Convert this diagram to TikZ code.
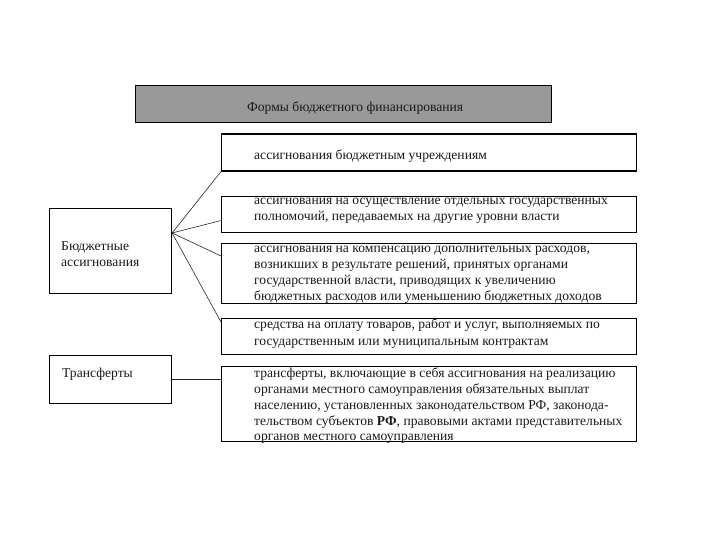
\documentclass[tikz,border=0pt]{standalone}
\usepackage{fontspec}
\setmainfont{Liberation Serif}
\usetikzlibrary{calc}
\begin{document}
\begin{tikzpicture}[x=1pt,y=-1pt,
  box/.style={draw=black, line width=1.1pt, inner sep=0pt, anchor=north west},
  conn/.style={draw=black!85, line width=0.6pt},
  txt/.style={anchor=base west, inner sep=0pt, font=\fontsize{13.6}{16}\selectfont, text=black!90}]
\useasboundingbox (0,0) rectangle (720,540);
% boxes
\node[box, fill=black!40, minimum width=416pt, minimum height=37pt] (title) at (135,85) {};
\node[box, minimum width=415pt, minimum height=37pt] (b1) at (221,133.5) {};
\node[box, minimum width=415pt, minimum height=36pt] (b2) at (221,196) {};
\node[box, minimum width=415pt, minimum height=60pt] (b3) at (221,243) {};
\node[box, minimum width=415pt, minimum height=36pt] (b4) at (221,318) {};
\node[box, minimum width=415pt, minimum height=75pt] (b5) at (221,366) {};
\node[box, minimum width=122pt, minimum height=85pt] (bud) at (49,208) {};
\node[box, minimum width=122pt, minimum height=48pt] (tr) at (49,355) {};
% texts
\node[txt] (tt) at (247,112) {Формы бюджетного финансирования};
\node[txt] (t1) at (254,160) {ассигнования бюджетным учреждениям};
\node[txt] (t2a) at (254,205) {ассигнования на осуществление отдельных государственных};
\node[txt] (t2b) at (254,221) {полномочий, передаваемых на другие уровни власти};
\node[txt] (t3a) at (254,252) {ассигнования на компенсацию дополнительных расходов,};
\node[txt] (t3b) at (254,268) {возникших в результате решений, принятых органами};
\node[txt] (t3c) at (254,284) {государственной власти, приводящих к увеличению};
\node[txt] (t3d) at (254,300) {бюджетных расходов или уменьшению бюджетных доходов};
\node[txt] (t4a) at (254,328) {средства на оплату товаров, работ и услуг, выполняемых по};
\node[txt] (t4b) at (254,345) {государственным или муниципальным контрактам};
\node[txt] (t5a) at (254,377) {трансферты, включающие в себя ассигнования на реализацию};
\node[txt] (t5b) at (254,393) {органами местного самоуправления обязательных выплат};
\node[txt] (t5c) at (254,409) {населению, установленных законодательством РФ, законода-};
\node[txt] (t5d) at (254,425) {тельством субъектов \textbf{РФ}, правовыми актами представительных};
\node[txt] (t5e) at (254,440) {органов местного самоуправления};
\node[txt] (tb1) at (61,250) {Бюджетные};
\node[txt] (tb2) at (61,266) {ассигнования};
\node[txt] (ttr) at (62,377) {Трансферты};
% connectors
\coordinate (hub) at ($(bud.north east)!0.29!(bud.south east)$);
\draw[conn] (hub) -- (b1.south west);
\draw[conn] (hub) -- ($(b2.west)+(0,6)$);
\draw[conn] (hub) -- ($(b3.north west)+(0,13)$);
\draw[conn] (hub) -- ($(b4.north west)+(0,4)$);
\draw[conn] (tr.east) -- (tr.east -| b5.west);
\end{tikzpicture}
\end{document}
